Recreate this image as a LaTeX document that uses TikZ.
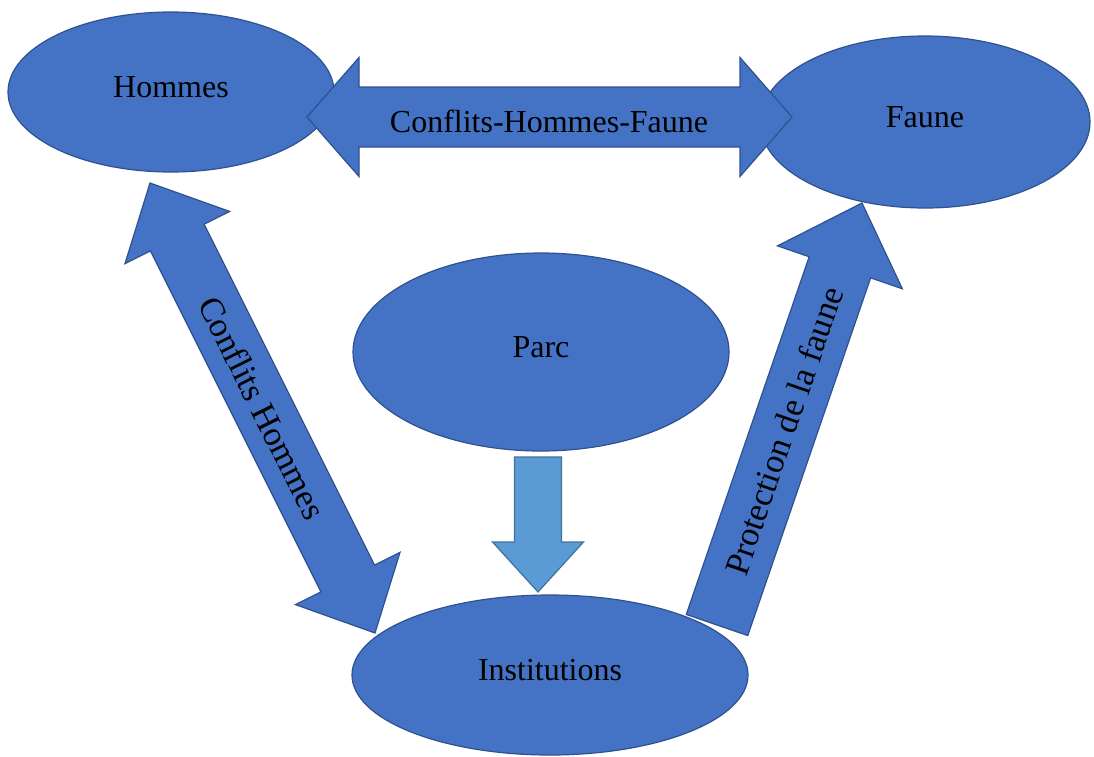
\documentclass[tikz,border=0pt]{standalone}
\usepackage{fontspec}
\setmainfont{Liberation Serif}
\usetikzlibrary{shapes.geometric,calc}
\definecolor{boxfill}{HTML}{4472C4}
\definecolor{boxline}{HTML}{2F528F}
\definecolor{lightfill}{HTML}{5B9BD5}
\definecolor{lightline}{HTML}{41719C}
\newcommand{\blkdouble}[6]{% style, A, B, shaft half, head half, head length
  \coordinate (qa) at ($(#2)!#6!(#3)$);
  \coordinate (qb) at ($(#3)!#6!(#2)$);
  \draw[#1] (#2) -- ($(qa)!#5!90:(#3)$) -- ($(qa)!#4!90:(#3)$) -- ($(qb)!#4!90:(#3)$) -- ($(qb)!#5!90:(#3)$) -- (#3) -- ($(qb)!#5!-90:(#3)$) -- ($(qb)!#4!-90:(#3)$) -- ($(qa)!#4!-90:(#3)$) -- ($(qa)!#5!-90:(#3)$) -- cycle;
}
\newcommand{\blksingle}[6]{% style, tail, tip, shaft half, head half, head length
  \coordinate (qb) at ($(#3)!#6!(#2)$);
  \draw[#1] ($(#2)!#4!90:(#3)$) -- ($(qb)!#4!90:(#3)$) -- ($(qb)!#5!90:(#3)$) -- (#3) -- ($(qb)!#5!-90:(#3)$) -- ($(qb)!#4!-90:(#3)$) -- ($(#2)!#4!-90:(#3)$) -- cycle;
}
\begin{document}
\begin{tikzpicture}[x=1pt,y=-1pt,
  oval/.style={ellipse, draw=boxline, fill=boxfill, line width=1.2pt, inner sep=0pt,
    font=\fontsize{32}{38}\selectfont, text=black, text height=22pt, text depth=12pt},
  blk/.style={draw=boxline, fill=boxfill, line width=1.2pt},
  blklight/.style={draw=lightline, fill=lightfill, line width=1.2pt},
  lbl/.style={font=\fontsize{32}{38}\selectfont, text=black, inner sep=0pt},
  rlbl/.style={font=\fontsize{34.5}{40}\selectfont, text=black, inner sep=0pt}]
\fill[white] (0,0) rectangle (1094,756);
\useasboundingbox (0,0) rectangle (1094,756);
% ellipses
\node[oval, minimum width=326pt, minimum height=160pt] (hommes) at (171,92) {Hommes};
\node[oval, minimum width=330pt, minimum height=172pt] (faune) at (925,122) {Faune};
\node[oval, minimum width=376pt, minimum height=198pt] (parc) at (541,352) {Parc};
\node[oval, minimum width=396pt, minimum height=160pt] (inst) at (550,675) {Institutions};
% arrow end points
\coordinate (hfA) at (307,117);
\coordinate (hfB) at (792,117);
\coordinate (hiA) at (150,183);
\coordinate (hiB) at (375,633);
\coordinate (ifA) at (717,625);
\coordinate (ifB) at (862,203);
\coordinate (piA) at (538,457);
\coordinate (piB) at (538,592);
% block arrows
\blkdouble{blk}{hfA}{hfB}{30pt}{59.5pt}{52pt}
\blkdouble{blk}{hiA}{hiB}{30pt}{58.5pt}{61pt}
\blksingle{blk}{ifA}{ifB}{32.5pt}{66pt}{68pt}
\blksingle{blklight}{piA}{piB}{23.5pt}{45.5pt}{50pt}
% labels
\node[lbl] (lblhf) at (549,121) {Conflits-Hommes-Faune};
\path (hiA) -- (hiB) node[rlbl, pos=0.5, sloped] (lblhi) {Conflits Hommes};
\path (ifA) -- (ifB) node[rlbl, pos=0.46, sloped] (lblif) {Protection de la faune};
\end{tikzpicture}
\end{document}
